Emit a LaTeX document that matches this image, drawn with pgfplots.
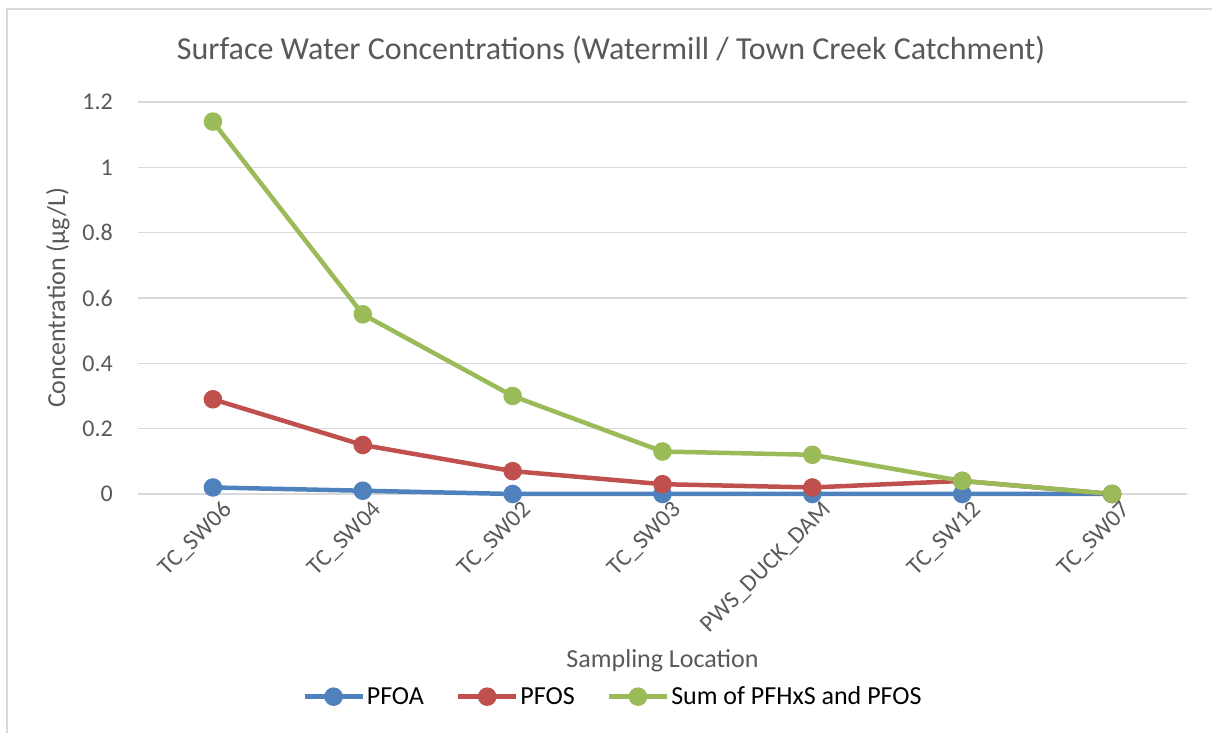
\documentclass[border=0pt]{standalone}
\usepackage{pgfplots}
\pgfplotsset{compat=1.18}
\usepackage{fontspec}
\setmainfont{Carlito}
\definecolor{cblue}{HTML}{4F81BD}
\definecolor{cred}{HTML}{C0504D}
\definecolor{cgreen}{HTML}{9BBB59}
\definecolor{cgrid}{HTML}{D9D9D9}
\definecolor{ctext}{HTML}{595959}
\begin{document}
\begin{tikzpicture}
\path[use as bounding box] (0pt,0pt) rectangle (1212pt,733pt);
\draw[cgrid,line width=1.5pt] (7pt,0pt) -- (7pt,724pt) -- (1212pt,724pt);
\node[text=ctext,font=\fontsize{32}{36}\selectfont] at (611pt,683pt) {Surface Water Concentrations (Watermill / Town Creek Catchment)};
\begin{axis}[
  at={(138pt,239pt)}, anchor=south west,
  scale only axis, width=1049pt, height=392pt,
  xmin=-0.5, xmax=6.5, ymin=0, ymax=1.2,
  ytick={0,0.2,...,1.2},
  xtick={0,...,6},
  xticklabels={TC\_SW06,TC\_SW04,TC\_SW02,TC\_SW03,PWS\_DUCK\_DAM,TC\_SW12,TC\_SW07},
  axis line style={draw=none},
  tick style={draw=none},
  ymajorgrids, grid style={cgrid,line width=1.3pt},
  /pgf/number format/assume math mode=true,
  ticklabel style={text=ctext,font=\fontsize{24}{28}\selectfont},
  yticklabel style={anchor=east,inner sep=0pt,xshift=-25pt},
  xticklabel style={rotate=45,anchor=north east,inner sep=0pt,xshift=2pt,yshift=-10pt},
  ylabel={Concentration (µg/L)},
  xlabel={Sampling Location},
  label style={text=ctext,font=\fontsize{26}{30}\selectfont},
  ylabel style={at={(axis description cs:-0.0763,0.5)},rotate=0,anchor=center},
  xlabel style={at={(axis description cs:0.5,-0.426)},anchor=center},
  legend style={at={(axis description cs:0.4528,-0.517)},anchor=center,draw=none,
    font=\fontsize{26}{30}\selectfont,legend columns=-1,
    /tikz/every even column/.append style={column sep=30pt}},
  legend image code/.code={
    \draw[#1,mark=none] (0pt,0pt) -- (58pt,0pt);
    \draw[#1,only marks] plot coordinates {(29pt,0pt)};
  },
  every axis plot/.append style={line width=4.5pt, mark=*, mark size=7pt},
  clip=false,
]
\addplot[color=cblue, mark options={fill=cblue,draw=cblue}] coordinates {(0,0.02) (1,0.01) (2,0) (3,0) (4,0) (5,0) (6,0)};
\addlegendentry{PFOA}
\addplot[color=cred, mark options={fill=cred,draw=cred}] coordinates {(0,0.29) (1,0.15) (2,0.07) (3,0.03) (4,0.02) (5,0.04) (6,0)};
\addlegendentry{PFOS}
\addplot[color=cgreen, mark options={fill=cgreen,draw=cgreen}] coordinates {(0,1.14) (1,0.55) (2,0.30) (3,0.13) (4,0.12) (5,0.04) (6,0)};
\addlegendentry{Sum of PFHxS and PFOS}
\end{axis}
\end{tikzpicture}
\end{document}
